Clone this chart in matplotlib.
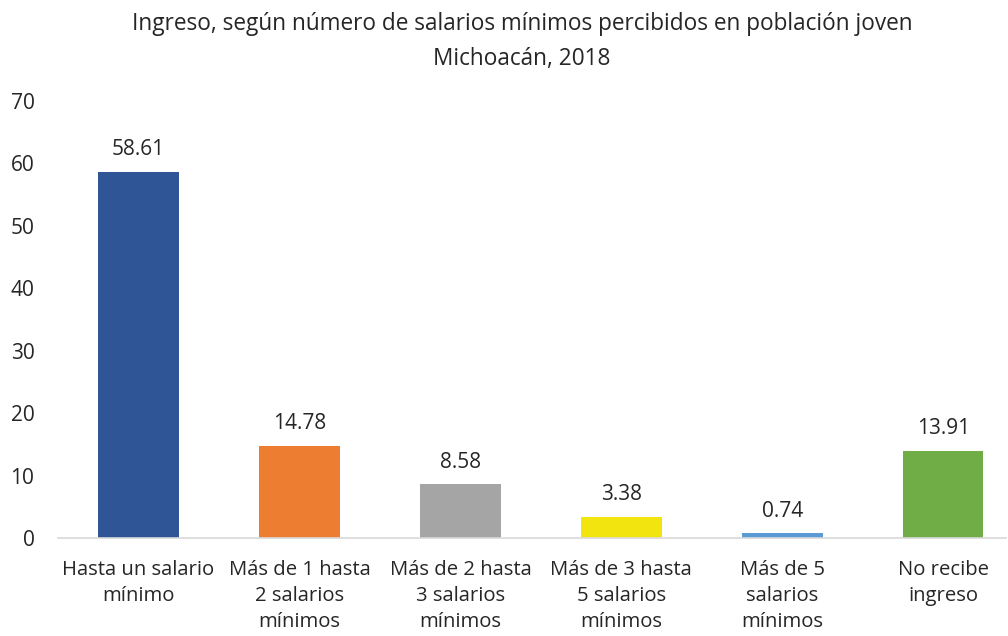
import matplotlib.pyplot as plt

# Ingreso de la población joven, Michoacán 2018
categorias = [
    "Hasta un salario\nmínimo",
    "Más de 1 hasta\n2 salarios\nmínimos",
    "Más de 2 hasta\n3 salarios\nmínimos",
    "Más de 3 hasta\n5 salarios\nmínimos",
    "Más de 5\nsalarios\nmínimos",
    "No recibe\ningreso",
]
porcentajes = [58.61, 14.78, 8.58, 3.38, 0.74, 13.91]
colores = ["#2F5597", "#ED7D31", "#A5A5A5", "#F2E50F", "#5B9BD5", "#70AD47"]
y_ticks = [0, 10, 20, 30, 40, 50, 60, 70]

plt.rcParams['font.family'] = ['Open Sans', 'DejaVu Sans']

fig = plt.figure(figsize=(10.08, 6.36), dpi=100)
ax = fig.add_axes([58 / 1008, 98 / 636, 948 / 1008, 437 / 636])

x = range(len(categorias))
bars = ax.bar(x, porcentajes, width=0.5, color=colores)

for b, v in zip(bars, porcentajes):
    ax.annotate(f"{v:.2f}", (b.get_x() + b.get_width() / 2, v),
                xytext=(0, 8.5), textcoords="offset points",
                ha="center", va="bottom", fontsize=15, color="#262626")

ax.set_ylim(0, 70)
ax.set_yticks(y_ticks)
ax.set_xlim(-0.5, 5.39)
ax.set_xticks(list(x))
ax.set_xticklabels(categorias, fontsize=14.6, color="#262626", linespacing=1.4)
ax.tick_params(axis="y", labelsize=15, labelcolor="#262626", length=0, pad=17)
ax.tick_params(axis="x", length=0, pad=16)

for s in ["top", "right", "left"]:
    ax.spines[s].set_visible(False)
ax.spines["bottom"].set_color("#D9D9D9")
ax.spines["bottom"].set_linewidth(1.2)

fig.text(0.518, 0.962, "Ingreso, según número de salarios mínimos percibidos en población joven",
         ha="center", va="center", fontsize=16.3, color="#262626")
fig.text(0.518, 0.908, "Michoacán, 2018",
         ha="center", va="center", fontsize=16.3, color="#262626")

fig.savefig("out.png", dpi=100)
